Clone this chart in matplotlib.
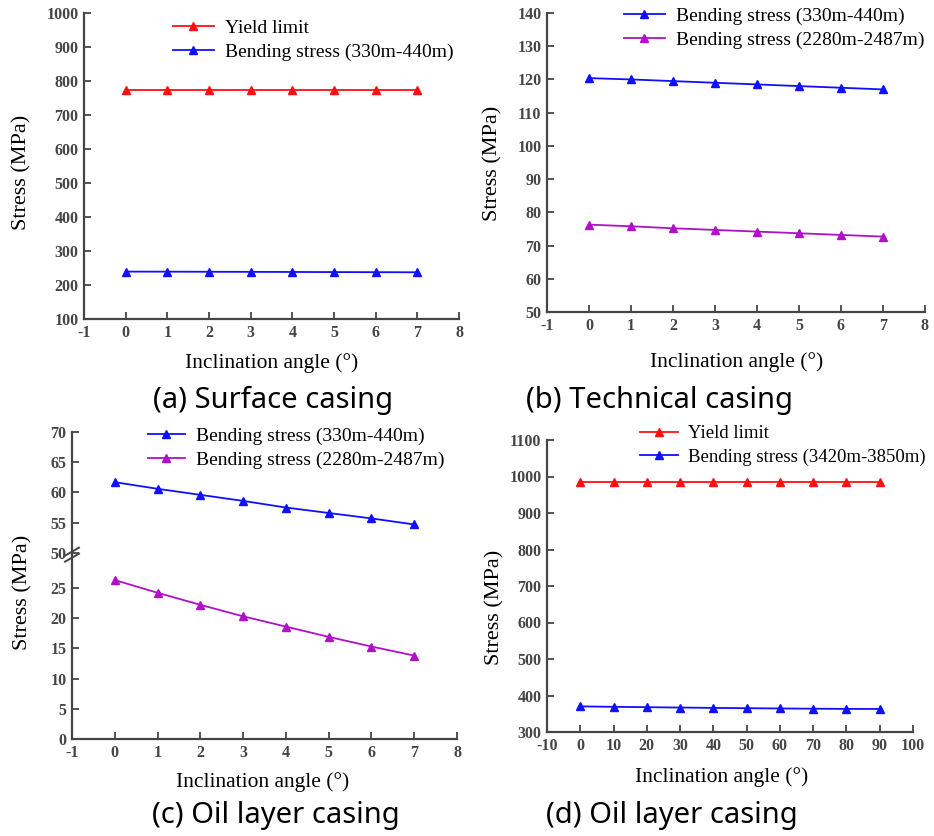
import matplotlib.pyplot as plt
import numpy as np

plt.rcParams['axes.unicode_minus'] = False

# data
angle_small = [0, 1, 2, 3, 4, 5, 6, 7]
angle_big = [0, 10, 20, 30, 40, 50, 60, 70, 80, 90]

a_yield = [774, 774, 774, 774, 774, 774, 774, 774]
a_bend = [239.4, 239.2, 238.9, 238.6, 238.3, 238.0, 237.7, 237.4]

b_bend_330 = [120.4, 120.0, 119.5, 119.0, 118.5, 118.0, 117.5, 117.0]
b_bend_2280 = [76.3, 75.8, 75.2, 74.7, 74.2, 73.7, 73.2, 72.7]

c_bend_330 = [61.7, 60.6, 59.6, 58.6, 57.5, 56.6, 55.7, 54.7]
c_bend_2280 = [26.3, 24.2, 22.2, 20.3, 18.6, 16.9, 15.3, 13.8]

d_yield = [985, 985, 985, 985, 985, 985, 985, 985, 985, 985]
d_bend = [370.2, 369.0, 368.0, 367.0, 366.0, 365.2, 364.5, 363.8, 363.3, 363.0]

RED = '#ff1010'
BLUE = '#1010ff'
PURPLE = '#b010c8'
AXC = '#454545'
SERIF = 'Liberation Serif'

fig = plt.figure(figsize=(9.34, 8.36), dpi=100)
W, H = 934, 836


def fx(px):
    return px / W


def fy(py):
    return 1 - py / H


def add_ax(l, r, t, b):
    return fig.add_axes([l / W, 1 - b / H, (r - l) / W, (b - t) / H])


def style(ax, bottom=True):
    for s in ['top', 'right']:
        ax.spines[s].set_visible(False)
    ax.spines['left'].set_color(AXC)
    ax.spines['left'].set_linewidth(1.6)
    if bottom:
        ax.spines['bottom'].set_color(AXC)
        ax.spines['bottom'].set_linewidth(1.6)
    else:
        ax.spines['bottom'].set_visible(False)
    ax.tick_params(direction='in', length=5, width=1.3, color=AXC,
                   labelcolor=AXC, labelsize=11.5, pad=4)
    for lab in ax.get_xticklabels() + ax.get_yticklabels():
        lab.set_fontfamily(SERIF)
        lab.set_fontweight('bold')


def line(ax, x, y, c, label=None):
    ax.plot(x, y, color=c, lw=1.3, marker='^', ms=6, label=label)


def legend(ax, hx, top, hl=2.1, size=14):
    ax.legend(loc='upper left', bbox_to_anchor=(fx(hx), fy(top)),
              bbox_transform=fig.transFigure, frameon=False,
              prop={'family': SERIF, 'size': size}, handlelength=hl,
              handletextpad=0.55, labelspacing=0.35, borderaxespad=0,
              borderpad=0)


def labels(ax, ylab, xlab):
    ax.set_ylabel('Stress (MPa)', family=SERIF, fontsize=16)
    ax.yaxis.set_label_coords(fx(ylab[0]), fy(ylab[1]), transform=fig.transFigure)
    ax.set_xlabel('Inclination angle (°)', family=SERIF, fontsize=15.5)
    ax.xaxis.set_label_coords(fx(xlab[0]), fy(xlab[1]), transform=fig.transFigure)
    ax.yaxis.label.set_va('center')
    ax.xaxis.label.set_va('center')


# (a)
ax = add_ax(84, 459, 13, 319)
line(ax, angle_small, a_yield, RED, 'Yield limit')
line(ax, angle_small, a_bend, BLUE, 'Bending stress (330m-440m)')
ax.set_xlim(-1, 8)
ax.set_ylim(100, 1000)
ax.set_xticks(range(-1, 9))
ax.set_yticks(range(100, 1001, 100))
style(ax)
labels(ax, (22, 172), (272, 363))
legend(ax, 173, 19)

# (b)
ax = add_ax(547, 925, 13, 312)
line(ax, angle_small, b_bend_330, BLUE, 'Bending stress (330m-440m)')
line(ax, angle_small, b_bend_2280, PURPLE, 'Bending stress (2280m-2487m)')
ax.set_xlim(-1, 8)
ax.set_ylim(50, 140)
ax.set_xticks(range(-1, 9))
ax.set_yticks(range(50, 141, 10))
style(ax)
labels(ax, (493, 163), (737, 362))
legend(ax, 624, 7)

# (c) broken y axis
c_low_top = 30.5
c_high_bot = 49.7
unit = 307.0 / ((70 - c_high_bot) + c_low_top)
split = 432 + (70 - c_high_bot) * unit
axt = add_ax(72, 457, 432, split)
axb = add_ax(72, 457, split, 739)
for a in (axt, axb):
    line(a, angle_small, c_bend_330, BLUE, 'Bending stress (330m-440m)')
    line(a, angle_small, c_bend_2280, PURPLE, 'Bending stress (2280m-2487m)')
    a.set_xlim(-1, 8)
axt.set_ylim(c_high_bot, 70)
axb.set_ylim(0, c_low_top)
axt.set_yticks(range(50, 71, 5))
axb.set_yticks(range(0, 26, 5))
axb.set_xticks(range(-1, 9))
axt.set_xticks([])
style(axt, bottom=False)
style(axb)
axt.patch.set_alpha(0)
legend(axt, 148, 427, hl=1.9)
labels(axb, (23, 592), (263, 782))
# break marks on the left spine
bx = fx(72)
by = fy(split)
for dy in (-3, 3):
    fig.add_artist(plt.Line2D([bx - 7 / W, bx + 7 / W],
                              [by + (dy - 4) / H, by + (dy + 4) / H],
                              color=AXC, lw=1.4))

# (d)
ax = add_ax(547, 913, 440, 732)
line(ax, angle_big, d_yield, RED, 'Yield limit')
line(ax, angle_big, d_bend, BLUE, 'Bending stress (3420m-3850m)')
ax.set_xlim(-10, 100)
ax.set_ylim(300, 1100)
ax.set_xticks(range(-10, 101, 10))
ax.set_yticks(range(300, 1101, 100))
style(ax)
labels(ax, (495, 607), (722, 777))
legend(ax, 640, 425, hl=2.0, size=13.5)

# captions
cap = dict(family='Noto Sans', fontsize=21, ha='center', va='center')
fig.text(fx(273), fy(400), '(a) Surface casing', **cap)
fig.text(fx(659), fy(400), '(b) Technical casing', **cap)
fig.text(fx(276), fy(815), '(c) Oil layer casing', **cap)
fig.text(fx(672), fy(815), '(d) Oil layer casing', **cap)

fig.savefig('out.png', dpi=100)
